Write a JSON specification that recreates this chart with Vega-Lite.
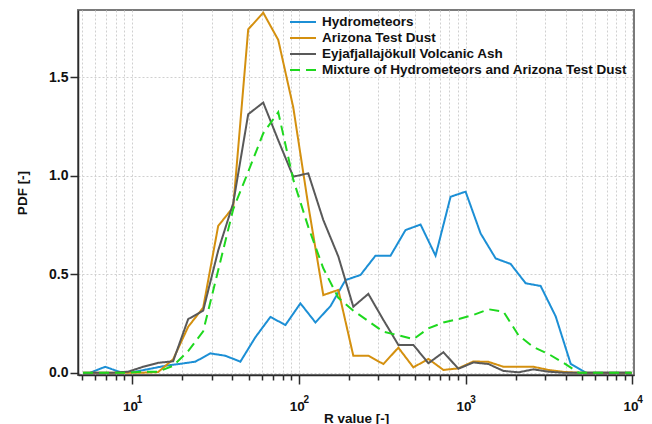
{
  "$schema": "https://vega.github.io/schema/vega-lite/v6.json",
  "width": 556,
  "height": 365,
  "autosize": {"type": "none"},
  "padding": {"left": 78, "top": 10, "right": 18, "bottom": 49},
  "background": "white",
  "config": {
    "view": {"stroke": "#7a7a7a", "strokeWidth": 2},
    "font": "Liberation Sans",
    "axis": {
      "domainColor": "#2b2b2b", "domainWidth": 1.5,
      "tickColor": "#2b2b2b", "tickWidth": 1.5,
      "labelFont": "Liberation Sans", "labelFontWeight": "bold", "labelColor": "#111111",
      "titleFont": "Liberation Sans", "titleFontWeight": "bold", "titleColor": "#111111", "titleFontSize": 13.5,
      "gridColor": "#d0d0d0", "gridDash": [2, 2], "gridWidth": 1,
      "labelFlush": false, "labelOverlap": false, "labelBound": false
    }
  },
  "data": {"values": [
    {"series": "Hydrometeors", "R": 5.623, "PDF": 0},
    {"series": "Hydrometeors", "R": 6.918, "PDF": 0.03},
    {"series": "Hydrometeors", "R": 8.511, "PDF": 0.003},
    {"series": "Hydrometeors", "R": 10.47, "PDF": 0.005},
    {"series": "Hydrometeors", "R": 12.88, "PDF": 0.02},
    {"series": "Hydrometeors", "R": 15.85, "PDF": 0.035},
    {"series": "Hydrometeors", "R": 19.50, "PDF": 0.045},
    {"series": "Hydrometeors", "R": 23.99, "PDF": 0.056},
    {"series": "Hydrometeors", "R": 29.51, "PDF": 0.098},
    {"series": "Hydrometeors", "R": 36.31, "PDF": 0.086},
    {"series": "Hydrometeors", "R": 44.67, "PDF": 0.056},
    {"series": "Hydrometeors", "R": 54.95, "PDF": 0.18},
    {"series": "Hydrometeors", "R": 67.61, "PDF": 0.283},
    {"series": "Hydrometeors", "R": 83.18, "PDF": 0.242},
    {"series": "Hydrometeors", "R": 102.3, "PDF": 0.352},
    {"series": "Hydrometeors", "R": 125.9, "PDF": 0.255},
    {"series": "Hydrometeors", "R": 154.9, "PDF": 0.338},
    {"series": "Hydrometeors", "R": 190.5, "PDF": 0.47},
    {"series": "Hydrometeors", "R": 234.4, "PDF": 0.496},
    {"series": "Hydrometeors", "R": 288.4, "PDF": 0.594},
    {"series": "Hydrometeors", "R": 354.8, "PDF": 0.594},
    {"series": "Hydrometeors", "R": 436.5, "PDF": 0.724},
    {"series": "Hydrometeors", "R": 537.0, "PDF": 0.752},
    {"series": "Hydrometeors", "R": 660.7, "PDF": 0.594},
    {"series": "Hydrometeors", "R": 812.8, "PDF": 0.893},
    {"series": "Hydrometeors", "R": 1000, "PDF": 0.919},
    {"series": "Hydrometeors", "R": 1230, "PDF": 0.707},
    {"series": "Hydrometeors", "R": 1514, "PDF": 0.58},
    {"series": "Hydrometeors", "R": 1862, "PDF": 0.552},
    {"series": "Hydrometeors", "R": 2291, "PDF": 0.454},
    {"series": "Hydrometeors", "R": 2818, "PDF": 0.44},
    {"series": "Hydrometeors", "R": 3467, "PDF": 0.286},
    {"series": "Hydrometeors", "R": 4266, "PDF": 0.045},
    {"series": "Hydrometeors", "R": 5248, "PDF": 0},
    {"series": "Hydrometeors", "R": 6457, "PDF": 0},
    {"series": "Hydrometeors", "R": 7943, "PDF": 0},
    {"series": "Hydrometeors", "R": 9772, "PDF": 0},

    {"series": "Arizona Test Dust", "R": 5.093, "PDF": 0},
    {"series": "Arizona Test Dust", "R": 6.266, "PDF": 0},
    {"series": "Arizona Test Dust", "R": 7.709, "PDF": 0},
    {"series": "Arizona Test Dust", "R": 9.484, "PDF": 0},
    {"series": "Arizona Test Dust", "R": 11.67, "PDF": 0},
    {"series": "Arizona Test Dust", "R": 14.35, "PDF": 0.003},
    {"series": "Arizona Test Dust", "R": 17.66, "PDF": 0.068},
    {"series": "Arizona Test Dust", "R": 21.73, "PDF": 0.233},
    {"series": "Arizona Test Dust", "R": 26.73, "PDF": 0.33},
    {"series": "Arizona Test Dust", "R": 32.89, "PDF": 0.745},
    {"series": "Arizona Test Dust", "R": 40.46, "PDF": 0.84},
    {"series": "Arizona Test Dust", "R": 49.77, "PDF": 1.743},
    {"series": "Arizona Test Dust", "R": 61.24, "PDF": 1.827},
    {"series": "Arizona Test Dust", "R": 75.34, "PDF": 1.689},
    {"series": "Arizona Test Dust", "R": 92.68, "PDF": 1.347},
    {"series": "Arizona Test Dust", "R": 114.0, "PDF": 0.85},
    {"series": "Arizona Test Dust", "R": 140.3, "PDF": 0.394},
    {"series": "Arizona Test Dust", "R": 172.6, "PDF": 0.42},
    {"series": "Arizona Test Dust", "R": 212.3, "PDF": 0.086},
    {"series": "Arizona Test Dust", "R": 261.2, "PDF": 0.086},
    {"series": "Arizona Test Dust", "R": 321.4, "PDF": 0.044},
    {"series": "Arizona Test Dust", "R": 395.4, "PDF": 0.127},
    {"series": "Arizona Test Dust", "R": 486.4, "PDF": 0.027},
    {"series": "Arizona Test Dust", "R": 598.4, "PDF": 0.07},
    {"series": "Arizona Test Dust", "R": 736.2, "PDF": 0.014},
    {"series": "Arizona Test Dust", "R": 905.7, "PDF": 0.022},
    {"series": "Arizona Test Dust", "R": 1114, "PDF": 0.057},
    {"series": "Arizona Test Dust", "R": 1371, "PDF": 0.055},
    {"series": "Arizona Test Dust", "R": 1687, "PDF": 0.03},
    {"series": "Arizona Test Dust", "R": 2075, "PDF": 0.03},
    {"series": "Arizona Test Dust", "R": 2553, "PDF": 0.03},
    {"series": "Arizona Test Dust", "R": 3141, "PDF": 0.014},
    {"series": "Arizona Test Dust", "R": 3864, "PDF": 0.004},
    {"series": "Arizona Test Dust", "R": 4753, "PDF": 0},
    {"series": "Arizona Test Dust", "R": 5848, "PDF": 0},
    {"series": "Arizona Test Dust", "R": 7194, "PDF": 0},
    {"series": "Arizona Test Dust", "R": 8851, "PDF": 0},
    {"series": "Arizona Test Dust", "R": 9900, "PDF": 0},

    {"series": "Eyjafjallajökull Volcanic Ash", "R": 5.093, "PDF": 0},
    {"series": "Eyjafjallajökull Volcanic Ash", "R": 6.266, "PDF": 0},
    {"series": "Eyjafjallajökull Volcanic Ash", "R": 7.709, "PDF": 0},
    {"series": "Eyjafjallajökull Volcanic Ash", "R": 9.484, "PDF": 0.005},
    {"series": "Eyjafjallajökull Volcanic Ash", "R": 11.67, "PDF": 0.03},
    {"series": "Eyjafjallajökull Volcanic Ash", "R": 14.35, "PDF": 0.05},
    {"series": "Eyjafjallajökull Volcanic Ash", "R": 17.66, "PDF": 0.058},
    {"series": "Eyjafjallajökull Volcanic Ash", "R": 21.73, "PDF": 0.272},
    {"series": "Eyjafjallajökull Volcanic Ash", "R": 26.73, "PDF": 0.315},
    {"series": "Eyjafjallajökull Volcanic Ash", "R": 32.89, "PDF": 0.62},
    {"series": "Eyjafjallajökull Volcanic Ash", "R": 40.46, "PDF": 0.86},
    {"series": "Eyjafjallajökull Volcanic Ash", "R": 49.77, "PDF": 1.312},
    {"series": "Eyjafjallajökull Volcanic Ash", "R": 61.24, "PDF": 1.371},
    {"series": "Eyjafjallajökull Volcanic Ash", "R": 75.34, "PDF": 1.18},
    {"series": "Eyjafjallajökull Volcanic Ash", "R": 92.68, "PDF": 0.995},
    {"series": "Eyjafjallajökull Volcanic Ash", "R": 114.0, "PDF": 1.012},
    {"series": "Eyjafjallajökull Volcanic Ash", "R": 140.3, "PDF": 0.775},
    {"series": "Eyjafjallajökull Volcanic Ash", "R": 172.6, "PDF": 0.59},
    {"series": "Eyjafjallajökull Volcanic Ash", "R": 212.3, "PDF": 0.335},
    {"series": "Eyjafjallajökull Volcanic Ash", "R": 261.2, "PDF": 0.4},
    {"series": "Eyjafjallajökull Volcanic Ash", "R": 321.4, "PDF": 0.268},
    {"series": "Eyjafjallajökull Volcanic Ash", "R": 395.4, "PDF": 0.141},
    {"series": "Eyjafjallajökull Volcanic Ash", "R": 486.4, "PDF": 0.141},
    {"series": "Eyjafjallajökull Volcanic Ash", "R": 598.4, "PDF": 0.048},
    {"series": "Eyjafjallajökull Volcanic Ash", "R": 736.2, "PDF": 0.104},
    {"series": "Eyjafjallajökull Volcanic Ash", "R": 905.7, "PDF": 0.02},
    {"series": "Eyjafjallajökull Volcanic Ash", "R": 1114, "PDF": 0.052},
    {"series": "Eyjafjallajökull Volcanic Ash", "R": 1371, "PDF": 0.044},
    {"series": "Eyjafjallajökull Volcanic Ash", "R": 1687, "PDF": 0.009},
    {"series": "Eyjafjallajökull Volcanic Ash", "R": 2075, "PDF": 0.002},
    {"series": "Eyjafjallajökull Volcanic Ash", "R": 2553, "PDF": 0.017},
    {"series": "Eyjafjallajökull Volcanic Ash", "R": 3141, "PDF": 0.005},
    {"series": "Eyjafjallajökull Volcanic Ash", "R": 3864, "PDF": 0},
    {"series": "Eyjafjallajökull Volcanic Ash", "R": 4753, "PDF": 0},
    {"series": "Eyjafjallajökull Volcanic Ash", "R": 5848, "PDF": 0},
    {"series": "Eyjafjallajökull Volcanic Ash", "R": 7194, "PDF": 0},
    {"series": "Eyjafjallajökull Volcanic Ash", "R": 8851, "PDF": 0},
    {"series": "Eyjafjallajökull Volcanic Ash", "R": 9900, "PDF": 0},

    {"series": "Mixture of Hydrometeors and Arizona Test Dust", "R": 5.093, "PDF": 0},
    {"series": "Mixture of Hydrometeors and Arizona Test Dust", "R": 6.266, "PDF": 0},
    {"series": "Mixture of Hydrometeors and Arizona Test Dust", "R": 7.709, "PDF": 0},
    {"series": "Mixture of Hydrometeors and Arizona Test Dust", "R": 9.484, "PDF": 0},
    {"series": "Mixture of Hydrometeors and Arizona Test Dust", "R": 11.67, "PDF": 0.005},
    {"series": "Mixture of Hydrometeors and Arizona Test Dust", "R": 14.35, "PDF": 0.005},
    {"series": "Mixture of Hydrometeors and Arizona Test Dust", "R": 17.66, "PDF": 0.035},
    {"series": "Mixture of Hydrometeors and Arizona Test Dust", "R": 21.73, "PDF": 0.11},
    {"series": "Mixture of Hydrometeors and Arizona Test Dust", "R": 26.73, "PDF": 0.21},
    {"series": "Mixture of Hydrometeors and Arizona Test Dust", "R": 32.89, "PDF": 0.52},
    {"series": "Mixture of Hydrometeors and Arizona Test Dust", "R": 40.46, "PDF": 0.83},
    {"series": "Mixture of Hydrometeors and Arizona Test Dust", "R": 49.77, "PDF": 1.02},
    {"series": "Mixture of Hydrometeors and Arizona Test Dust", "R": 61.24, "PDF": 1.215},
    {"series": "Mixture of Hydrometeors and Arizona Test Dust", "R": 75.34, "PDF": 1.322},
    {"series": "Mixture of Hydrometeors and Arizona Test Dust", "R": 92.68, "PDF": 0.98},
    {"series": "Mixture of Hydrometeors and Arizona Test Dust", "R": 114.0, "PDF": 0.74},
    {"series": "Mixture of Hydrometeors and Arizona Test Dust", "R": 140.3, "PDF": 0.53},
    {"series": "Mixture of Hydrometeors and Arizona Test Dust", "R": 172.6, "PDF": 0.38},
    {"series": "Mixture of Hydrometeors and Arizona Test Dust", "R": 212.3, "PDF": 0.315},
    {"series": "Mixture of Hydrometeors and Arizona Test Dust", "R": 261.2, "PDF": 0.262},
    {"series": "Mixture of Hydrometeors and Arizona Test Dust", "R": 321.4, "PDF": 0.208},
    {"series": "Mixture of Hydrometeors and Arizona Test Dust", "R": 395.4, "PDF": 0.19},
    {"series": "Mixture of Hydrometeors and Arizona Test Dust", "R": 486.4, "PDF": 0.17},
    {"series": "Mixture of Hydrometeors and Arizona Test Dust", "R": 598.4, "PDF": 0.225},
    {"series": "Mixture of Hydrometeors and Arizona Test Dust", "R": 736.2, "PDF": 0.255},
    {"series": "Mixture of Hydrometeors and Arizona Test Dust", "R": 905.7, "PDF": 0.272},
    {"series": "Mixture of Hydrometeors and Arizona Test Dust", "R": 1114, "PDF": 0.293},
    {"series": "Mixture of Hydrometeors and Arizona Test Dust", "R": 1371, "PDF": 0.322},
    {"series": "Mixture of Hydrometeors and Arizona Test Dust", "R": 1687, "PDF": 0.31},
    {"series": "Mixture of Hydrometeors and Arizona Test Dust", "R": 2075, "PDF": 0.19},
    {"series": "Mixture of Hydrometeors and Arizona Test Dust", "R": 2553, "PDF": 0.13},
    {"series": "Mixture of Hydrometeors and Arizona Test Dust", "R": 3141, "PDF": 0.095},
    {"series": "Mixture of Hydrometeors and Arizona Test Dust", "R": 3864, "PDF": 0.05},
    {"series": "Mixture of Hydrometeors and Arizona Test Dust", "R": 4753, "PDF": 0},
    {"series": "Mixture of Hydrometeors and Arizona Test Dust", "R": 5848, "PDF": 0},
    {"series": "Mixture of Hydrometeors and Arizona Test Dust", "R": 7194, "PDF": 0},
    {"series": "Mixture of Hydrometeors and Arizona Test Dust", "R": 8851, "PDF": 0},
    {"series": "Mixture of Hydrometeors and Arizona Test Dust", "R": 9900, "PDF": 0}
  ]},
  "encoding": {
    "y": {
      "field": "PDF", "type": "quantitative",
      "scale": {"domain": [-0.0117, 1.841], "nice": false, "zero": false},
      "axis": {
        "values": [0, 0.5, 1, 1.5], "format": ".1f", "tickSize": 8, "labelPadding": 2,
        "labelFontSize": 14, "grid": true, "title": "PDF [-]",
        "titleX": -56, "titleY": 182.5, "titleBaseline": "middle", "titleAlign": "center", "titleAngle": 270
      }
    },
    "color": {
      "field": "series", "type": "nominal",
      "scale": {
        "domain": ["Hydrometeors", "Arizona Test Dust", "Eyjafjallajökull Volcanic Ash", "Mixture of Hydrometeors and Arizona Test Dust"],
        "range": ["#1c8fd5", "#d4900f", "#595959", "#1ed81e"]
      },
      "legend": {
        "orient": "none", "legendX": 211, "legendY": 4, "title": null,
        "symbolType": "stroke", "symbolSize": 676, "symbolStrokeWidth": 2,
        "labelFont": "Liberation Sans", "labelFontSize": 13.5, "labelFontWeight": "bold", "labelColor": "#111111",
        "labelOffset": 5, "rowPadding": 0, "clipHeight": 16, "padding": 0, "labelLimit": 0
      }
    },
    "strokeDash": {
      "field": "series", "type": "nominal",
      "scale": {
        "domain": ["Hydrometeors", "Arizona Test Dust", "Eyjafjallajökull Volcanic Ash", "Mixture of Hydrometeors and Arizona Test Dust"],
        "range": [[1, 0], [1, 0], [1, 0], [10, 6]]
      },
      "legend": {
        "orient": "none", "legendX": 211, "legendY": 4, "title": null,
        "symbolType": "stroke", "symbolSize": 676, "symbolStrokeWidth": 2,
        "labelFont": "Liberation Sans", "labelFontSize": 13.5, "labelFontWeight": "bold", "labelColor": "#111111",
        "labelOffset": 5, "rowPadding": 0, "clipHeight": 16, "padding": 0, "labelLimit": 0
      }
    }
  },
  "layer": [
    {
      "transform": [{"filter": "datum.series === 'Hydrometeors'"}],
      "mark": {"type": "line", "strokeWidth": 2},
      "encoding": {
        "x": {
          "field": "R", "type": "quantitative",
          "scale": {"type": "log", "domain": [4.75, 10220], "nice": false},
          "axis": {
            "orient": "bottom", "values": [10, 100, 1000, 10000], "labelExpr": "'10'", "labelOffset": -2,
            "labelFontSize": 13.5, "tickSize": 9, "labelPadding": 15, "labelBaseline": "top", "grid": true,
            "title": "R value [-]", "titleY": 43, "titleBaseline": "middle"
          }
        }
      }
    },
    {
      "transform": [{"filter": "datum.series === 'Arizona Test Dust'"}],
      "mark": {"type": "line", "strokeWidth": 2},
      "encoding": {
        "x": {
          "field": "R", "type": "quantitative",
          "scale": {"type": "log", "domain": [4.75, 10220], "nice": false},
          "axis": {
            "orient": "bottom",
            "values": [5, 6, 7, 8, 9, 20, 30, 40, 50, 60, 70, 80, 90, 200, 300, 400, 500, 600, 700, 800, 900, 2000, 3000, 4000, 5000, 6000, 7000, 8000, 9000],
            "labels": false, "tickSize": 5, "grid": true, "domain": false, "title": null
          }
        }
      }
    },
    {
      "transform": [{"filter": "datum.series === 'Eyjafjallajökull Volcanic Ash'"}],
      "mark": {"type": "line", "strokeWidth": 2},
      "encoding": {
        "x": {
          "field": "R", "type": "quantitative",
          "scale": {"type": "log", "domain": [4.75, 10220], "nice": false},
          "axis": {
            "orient": "bottom", "values": [10, 100, 1000, 10000],
            "labelExpr": "datum.value == 10 ? '1' : datum.value == 100 ? '2' : datum.value == 1000 ? '3' : '4'",
            "labelOffset": 7, "labelFontSize": 10, "ticks": false, "tickSize": 0, "labelPadding": 19.5,
            "labelBaseline": "top", "grid": false, "domain": false, "title": null
          }
        }
      }
    },
    {
      "transform": [{"filter": "datum.series === 'Mixture of Hydrometeors and Arizona Test Dust'"}],
      "mark": {"type": "line", "strokeWidth": 2},
      "encoding": {
        "x": {
          "field": "R", "type": "quantitative",
          "scale": {"type": "log", "domain": [4.75, 10220], "nice": false},
          "axis": null
        }
      }
    }
  ],
  "resolve": {"axis": {"x": "independent"}}
}
